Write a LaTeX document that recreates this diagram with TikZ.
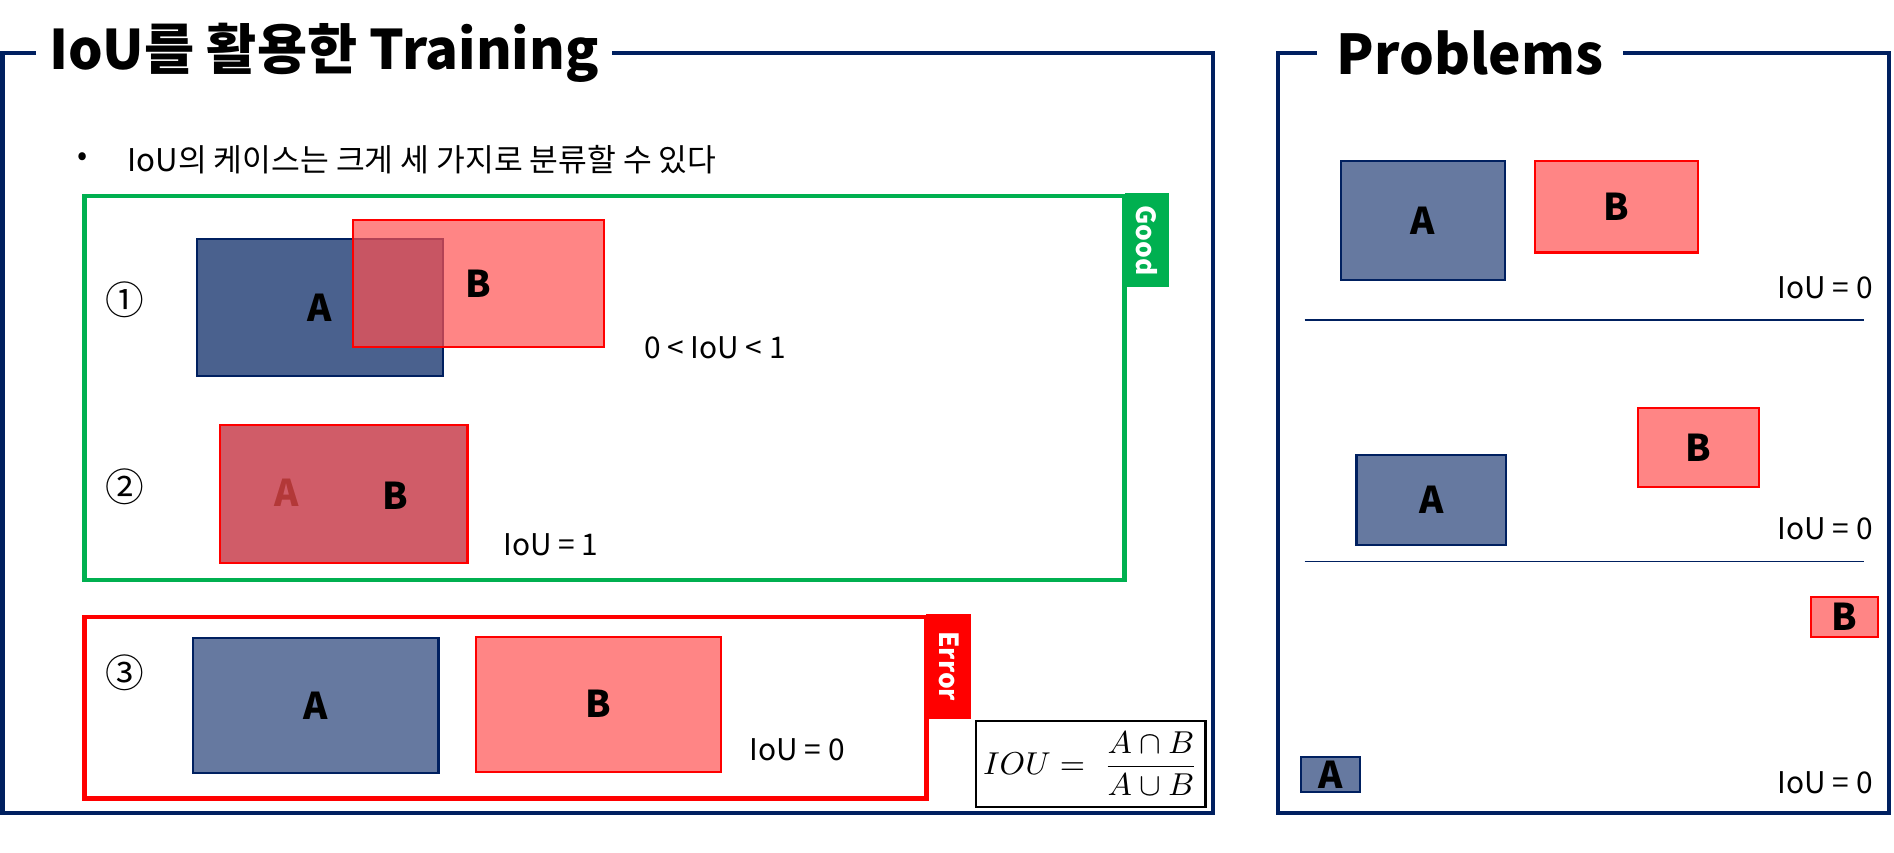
\documentclass[tikz,border=0pt]{standalone}
\usepackage{fontspec}
\setmainfont{Noto Sans CJK KR}
\newfontfamily\circfont{Noto Sans CJK KR}
\usepackage{xcolor}
\definecolor{marinho}{RGB}{0,32,96}
\definecolor{verdeG}{RGB}{0,176,80}
\definecolor{vermelhoE}{RGB}{255,0,0}
\definecolor{rosaB}{RGB}{255,81,81}
\usepackage{tikz}
\usetikzlibrary{positioning,calc}
\def\upx{0.12079mm}
\tikzset{
  moldura/.style={draw=marinho, line width=1.2pt},
  caixaA/.style={draw=marinho, fill=marinho, fill opacity=0.6, text opacity=1,
    line width=0.6pt, inner sep=0pt, font=\fontsize{10.5}{12}\selectfont\bfseries},
  caixaB/.style={draw=vermelhoE, fill=rosaB, fill opacity=0.7, text opacity=1,
    line width=0.6pt, inner sep=0pt, font=\fontsize{10.5}{12}\selectfont\bfseries},
  rotulo/.style={font=\fontsize{8.5}{10}\selectfont},
  letra/.style={font=\fontsize{10.5}{12}\selectfont\bfseries},
  numero/.style={font=\circfont\fontsize{11}{13}\selectfont},
  etiqueta/.style={rotate=-90, text=white, inner sep=0pt,
    font=\fontsize{7.5}{9}\selectfont\bfseries},
  divisor/.style={draw=marinho, line width=0.4pt}
}

\begin{document}
\begin{tikzpicture}[x=\upx, y=-\upx]
  \useasboundingbox (0,0) rectangle (1568,706);

  % painel esquerdo
  \node[font=\fontsize{15.5}{18}\selectfont\bfseries, anchor=west, inner xsep=10*\upx]
    (titulo) at (30,44) {IoU를 활용한 Training};
  \draw[moldura] (titulo.west) -| (2,673) -| (1004,44) -- (titulo.east);
  \node[rotulo] (bala) at (68,132) {•};
  \node[rotulo, font=\fontsize{8.9}{10}\selectfont, anchor=west, inner sep=0pt]
    (frase) at (105,132) {IoU의 케이스는 크게 세 가지로 분류할 수 있다};

  \node[draw=verdeG, line width=1.2pt, minimum width=861*\upx,
    minimum height=318*\upx] (grupoBom) at (500.5,321) {};
  \node[etiqueta, fill=verdeG, minimum width=78*\upx, minimum height=37*\upx]
    (good) at (949.5,199) {Good};
  \node[draw=vermelhoE, line width=1.2pt, minimum width=697*\upx,
    minimum height=150*\upx] (grupoErro) at (418.5,586) {};
  \node[etiqueta, fill=vermelhoE, minimum width=87*\upx, minimum height=37*\upx]
    (error) at (785.5,551.5) {Error};

  \foreach \n/\y in {①/248, ②/403, ③/557}
    \node[numero] (num\y) at (103,\y) {\n};

  % caso 1
  \node[caixaA, fill opacity=0.71, minimum width=204*\upx, minimum height=113*\upx]
    (a1) at (265,254.5) {A};
  \node[caixaB, minimum width=208*\upx, minimum height=105*\upx]
    (b1) at (396,234.5) {B};
  \node[rotulo] (iou1) at (592,288) {0 < IoU < 1};

  % caso 2
  \node[caixaA, minimum width=205*\upx, minimum height=114*\upx]
    (a2) at (284.5,409) {};
  \node[letra] (la2) at (237,408) {A};
  \node[caixaB, minimum width=205*\upx, minimum height=114*\upx]
    (b2) at (284.5,409) {};
  \node[letra] (lb2) at (327,410) {B};
  \node[rotulo] (iou2) at (456,451) {IoU = 1};

  % caso 3
  \node[caixaA, minimum width=203*\upx, minimum height=112*\upx]
    (a3) at (261.5,584) {A};
  \node[caixaB, minimum width=203*\upx, minimum height=112*\upx]
    (b3) at (495.5,583) {B};
  \node[rotulo] (iou3) at (660,621) {IoU = 0};

  \node[draw=black, line width=0.6pt, inner sep=0pt, minimum width=190*\upx,
    minimum height=71*\upx, font=\fontsize{9.5}{11}\selectfont] (formula) at (903,632.5)
    {$\displaystyle IOU = \;\frac{A\cap B}{A\cup B}$};

  % painel direito
  \node[font=\fontsize{15.6}{18}\selectfont\bfseries, anchor=west, inner xsep=16*\upx]
    (titulo2) at (1090,44) {Problems};
  \draw[moldura] (titulo2.west) -| (1058,673) -| (1564,44) -- (titulo2.east);

  \node[caixaA, minimum width=136*\upx, minimum height=99*\upx] (pa1) at (1178,182.5) {A};
  \node[caixaB, minimum width=135*\upx, minimum height=76*\upx] (pb1) at (1338.5,171) {B};
  \node[rotulo, anchor=east, inner sep=0pt] (piou1) at (1551,238) {IoU = 0};
  \coordinate (s1a) at (1080,265);
  \coordinate (s1b) at (1543,265);
  \draw[divisor] (s1a) -- (s1b);

  \node[caixaA, minimum width=124*\upx, minimum height=74*\upx] (pa2) at (1185,414) {A};
  \node[caixaB, minimum width=100*\upx, minimum height=65*\upx] (pb2) at (1406,370.5) {B};
  \node[rotulo, anchor=east, inner sep=0pt] (piou2) at (1551,438) {IoU = 0};
  \coordinate (s2a) at (1080,465);
  \coordinate (s2b) at (1543,465);
  \draw[divisor] (s2a) -- (s2b);

  \node[caixaB, minimum width=56*\upx, minimum height=33*\upx] (pb3) at (1527,510.5) {B};
  \node[caixaA, minimum width=49*\upx, minimum height=29*\upx] (pa3) at (1101.5,641.5) {A};
  \node[rotulo, anchor=east, inner sep=0pt] (piou3) at (1551,648) {IoU = 0};
\end{tikzpicture}
\end{document}
